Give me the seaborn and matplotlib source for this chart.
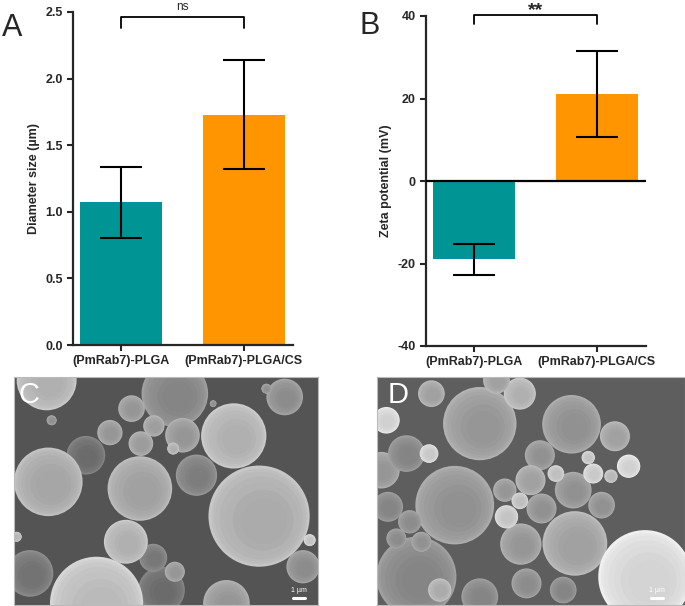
import matplotlib
matplotlib.use("Agg")
import matplotlib.pyplot as plt
from matplotlib.patches import Circle
import seaborn as sns

# bar chart data
groups = ["(PmRab7)-PLGA", "(PmRab7)-PLGA/CS"]
diameter = [1.07, 1.73]
diameter_sd = [0.27, 0.41]
zeta = [-19.0, 21.0]
zeta_sd = [3.7, 10.4]
bar_colors = ["#009494", "#ff9500"]

# SEM panels: particle centre x, centre y, radius (image units) and grey level
sem_c_x = [483, 813, 48, 216, 548, 443, 418, 98, 103, 378, 660, 736, 336, 248, 353, 288,
           381, 420, 506, 483, 868, 638, 113, 478, 888, 8, 758, 598]
sem_c_y = [50, 60, 590, 235, 295, 640, 543, 10, 315, 335, 177, 418, 495, 680, 95, 167,
           200, 147, 175, 585, 570, 680, 130, 215, 490, 480, 35, 80]
sem_c_r = [100, 55, 70, 58, 62, 70, 42, 90, 103, 97, 98, 152, 66, 140, 40, 38,
           37, 32, 52, 30, 50, 70, 15, 18, 18, 15, 15, 10]
sem_c_g = [0.55, 0.58, 0.48, 0.45, 0.52, 0.45, 0.50, 0.72, 0.68, 0.66, 0.72, 0.70, 0.72, 0.76, 0.62, 0.62,
           0.64, 0.65, 0.62, 0.62, 0.58, 0.62, 0.60, 0.72, 0.80, 0.75, 0.60, 0.60]

sem_d_x = [118, 308, 13, 308, 583, 233, 593, 431, 803, 163, 428, 358, 88, 28, 33, 98, 58, 133,
           488, 460, 493, 383, 388, 588, 673, 713, 754, 648, 536, 156, 448, 558, 188, 701, 633, 428]
sem_d_y = [600, 660, 280, 140, 142, 385, 500, 502, 600, 50, 50, 10, 230, 130, 390, 435, 485, 495,
           235, 310, 395, 340, 420, 340, 385, 178, 268, 290, 290, 230, 620, 640, 640, 298, 242, 372]
sem_d_r = [120, 55, 55, 110, 88, 118, 97, 62, 140, 40, 48, 40, 55, 40, 45, 35, 30, 30,
           45, 45, 45, 35, 35, 55, 40, 45, 35, 30, 25, 28, 45, 40, 35, 20, 20, 25]
sem_d_g = [0.55, 0.55, 0.62, 0.62, 0.60, 0.60, 0.66, 0.62, 0.86, 0.66, 0.72, 0.66, 0.55, 0.85, 0.55, 0.58, 0.58, 0.60,
           0.60, 0.66, 0.60, 0.62, 0.80, 0.60, 0.60, 0.66, 0.85, 0.82, 0.78, 0.82, 0.58, 0.55, 0.70, 0.75, 0.80, 0.78]

sns.set_style("ticks")
plt.rcParams["font.family"] = ["Liberation Sans", "DejaVu Sans"]
plt.rcParams["axes.unicode_minus"] = False

fig = plt.figure(figsize=(6.85, 6.06), dpi=100)


def bar_panel(ax, values, sd, ylabel):
    sns.barplot(x=groups, y=values, hue=groups, palette=bar_colors, saturation=1,
                width=0.67, legend=False, ax=ax, edgecolor="none")
    ax.errorbar(x=[0, 1], y=values, yerr=sd, fmt="none", ecolor="black",
                elinewidth=1.5, capsize=15, capthick=1.5, zorder=5)
    ax.set_xlim(-0.39, 1.40)
    ax.set_ylabel(ylabel, fontsize=9, fontweight="bold")
    ax.set_xlabel("")
    ax.tick_params(width=1.5, length=4, labelsize=9)
    for lab in ax.get_xticklabels() + ax.get_yticklabels():
        lab.set_fontweight("bold")
    sns.despine(ax=ax)
    for side in ["left", "bottom"]:
        ax.spines[side].set_linewidth(1.6)


# panel A
ax_a = fig.add_axes([73 / 685, 261 / 606, 220 / 685, 333 / 606])
bar_panel(ax_a, diameter, diameter_sd, "Diameter size (µm)")
ax_a.set_ylim(0, 2.5)
ax_a.set_yticks([0, 0.5, 1.0, 1.5, 2.0, 2.5])
ax_a.set_yticklabels(["0.0", "0.5", "1.0", "1.5", "2.0", "2.5"])
ax_a.plot([0, 0, 1, 1], [2.38, 2.46, 2.46, 2.38], color="black", lw=1.3, clip_on=False)
ax_a.text(0.5, 2.58, "ns", ha="center", va="top", fontsize=8.5)
fig.text(12 / 685, 1 - 28 / 606, "A", fontsize=22, ha="center", va="center")

# panel B
ax_b = fig.add_axes([426 / 685, 260 / 606, 220 / 685, 330 / 606])
bar_panel(ax_b, zeta, zeta_sd, "Zeta potential (mV)")
ax_b.set_ylim(-40, 40)
ax_b.set_yticks([-40, -20, 0, 20, 40])
ax_b.axhline(0, color="black", lw=1.6, zorder=6)
ax_b.plot([0, 0, 1, 1], [38.0, 40.3, 40.3, 38.0], color="black", lw=1.3, clip_on=False)
ax_b.text(0.5, 43.4, "**", ha="center", va="top", fontsize=14, fontweight="bold")
fig.text(370 / 685, 1 - 26 / 606, "B", fontsize=22, ha="center", va="center")


def sem_panel(rect, xs, ys, rs, gs, bg, w, letter, letter_x, bar_x):
    ax = fig.add_axes(rect)
    ax.set_facecolor((bg, bg, bg))
    for x, y, r, g in zip(xs, ys, rs, gs):
        # bright rim fading to a slightly darker, offset core
        steps = [(1.00, 0.08, 0.00), (0.95, 0.05, 0.01), (0.90, 0.03, 0.02),
                 (0.82, 0.01, 0.04), (0.72, 0.00, 0.06), (0.60, -0.02, 0.08),
                 (0.45, -0.03, 0.10)]
        for frac, dg, shift in steps:
            v = min(max(g + dg, 0), 0.96)
            ax.add_patch(Circle((x + r * shift, y + r * shift), r * frac,
                                facecolor=(v, v, v), edgecolor="none"))
    ax.set_xlim(0, w)
    ax.set_ylim(685, 0)
    ax.set_xticks([])
    ax.set_yticks([])
    for s in ax.spines.values():
        s.set_color("#bbbbbb")
        s.set_linewidth(0.8)
    ax.text(letter_x, 55, letter, color="white", fontsize=21, ha="center", va="center")
    ax.text(bar_x + 18, 640, "1 µm", color="white", fontsize=5, ha="center", va="center")
    ax.plot([bar_x, bar_x + 36], [664, 664], color="white", lw=2.2)
    return ax


sem_panel([14 / 685, 1 / 606, 304 / 685, 228 / 606], sem_c_x, sem_c_y, sem_c_r, sem_c_g,
          0.33, 913, "C", 46, 838)
sem_panel([377 / 685, 1 / 606, 308 / 685, 228 / 606], sem_d_x, sem_d_y, sem_d_r, sem_d_g,
          0.37, 923, "D", 63, 820)

fig.savefig("out.png", dpi=100)
